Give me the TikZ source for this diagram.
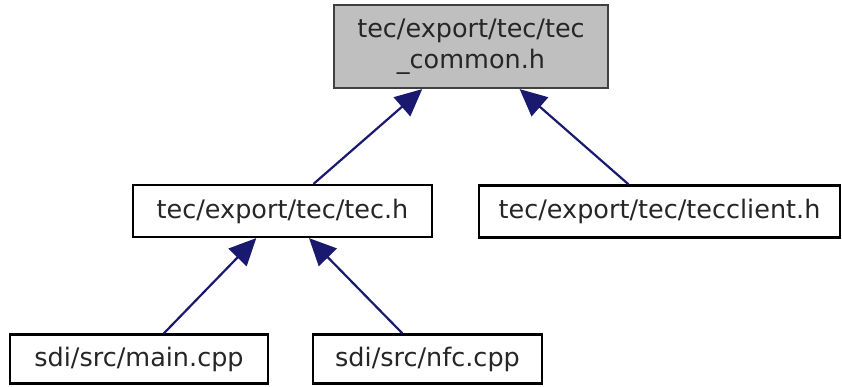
\documentclass[tikz,border=0pt]{standalone}
\usepackage{fontspec}
\setmainfont{DejaVu Sans}
\usetikzlibrary{arrows.meta}

\definecolor{edgeblue}{RGB}{25,25,112}

\begin{document}
\begin{tikzpicture}[x=1pt,y=-1pt]
	\tikzstyle{file}=[draw=black, line width=2.2pt, fill=white, inner sep=0pt, font=\fontsize{25.5}{31}\selectfont, text=black!85, align=center, minimum height=52pt]
	\tikzstyle{current}=[file, fill=black!25, draw=black!75]
	\tikzstyle{include}=[-{Triangle[length=27pt,width=25pt]}, draw=edgeblue, fill=edgeblue, line width=2.2pt]

	\useasboundingbox (0,0) rectangle (842,386);

	\node (common) [current, minimum width=274pt, minimum height=83pt] at (471,46.5) {tec/export/tec/tec\\\_common.h};
	\node (tech) [file, minimum width=299pt] at (282.5,211) {tec/export/tec/tec.h};
	\node (client) [file, minimum width=361pt] at (659.5,211.5) {tec/export/tec/tecclient.h};
	\node (main) [file, minimum width=258pt, minimum height=49pt] at (139,359) {sdi/src/main.cpp};
	\node (nfc) [file, minimum width=229pt, minimum height=49pt] at (427.5,359) {sdi/src/nfc.cpp};

	\draw[include] (tech) -- (common);
	\draw[include] (client) -- (common);
	\draw[include] (main) -- (tech);
	\draw[include] (nfc) -- (tech);
\end{tikzpicture}
\end{document}
